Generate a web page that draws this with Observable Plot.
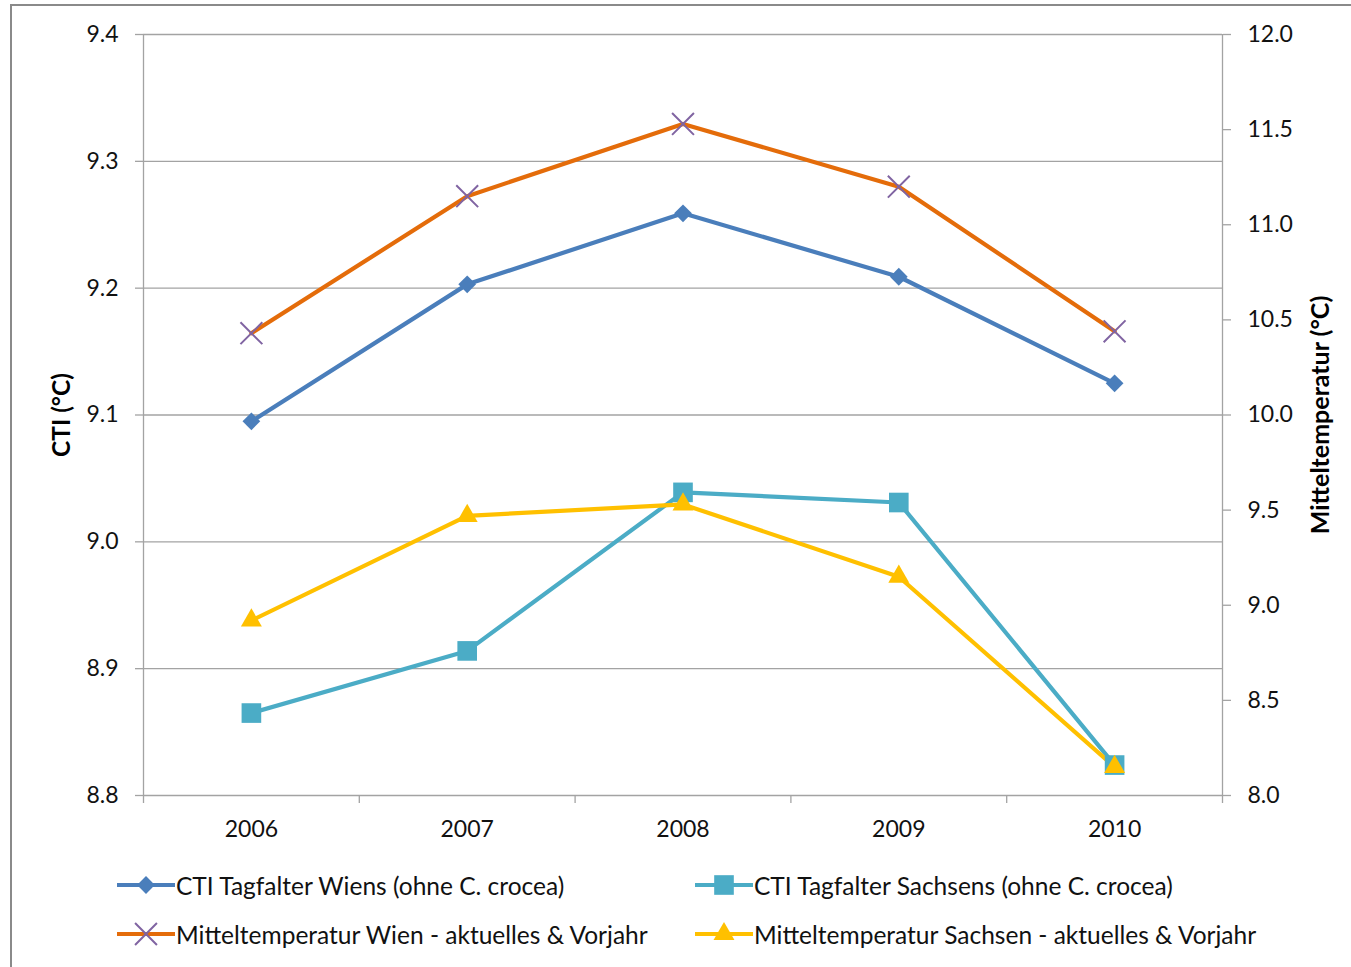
<!DOCTYPE html>
<html>
<head>
<meta charset="utf-8">
<script src="https://cdn.jsdelivr.net/npm/d3@7"></script>
<script src="https://cdn.jsdelivr.net/npm/@observablehq/plot@0.6"></script>
<style>
  html, body { margin: 0; padding: 0; background: #fff; }
  body { width: 1351px; height: 967px; position: relative; overflow: hidden; font-family: Lato, "Open Sans", sans-serif; }
  #frame { position: absolute; left: 10px; top: 4px; width: 1400px; height: 1000px; border-top: 2px solid #8a8a8a; border-left: 2px solid #8a8a8a; }
  #chart { position: absolute; left: 0; top: 0; }
  .leg { position: absolute; display: flex; align-items: center; font-size: 24.5px; color: #111; white-space: nowrap; }
  .leg svg { display: block; margin-right: 1px; }
</style>
</head>
<body>
<div id="frame"></div>
<div id="chart"></div>
<div id="legend"></div>
<script>
const years = [2006, 2007, 2008, 2009, 2010];
const ctiWien = [9.095, 9.203, 9.259, 9.209, 9.125];
const ctiSachsen = [8.865, 8.914, 9.039, 9.031, 8.824];
const tempWien = [10.43, 11.15, 11.53, 11.20, 10.44];
const tempSachsen = [8.92, 9.47, 9.53, 9.15, 8.15];
const leftTicks = [8.8, 8.9, 9.0, 9.1, 9.2, 9.3, 9.4];
const rightTicks = [8.0, 8.5, 9.0, 9.5, 10.0, 10.5, 11.0, 11.5, 12.0];
const seriesNames = [
  "CTI Tagfalter Wiens (ohne C. crocea)",
  "CTI Tagfalter Sachsens (ohne C. crocea)",
  "Mitteltemperatur Wien - aktuelles & Vorjahr",
  "Mitteltemperatur Sachsen - aktuelles & Vorjahr"
];

// right axis (8..12) mapped onto left axis (8.8..9.4)
const toLeft = v => 8.8 + (v - 8) * 0.15;
const fromLeft = y => 8 + (y - 8.8) / 0.15;

const series = [
  {name: seriesNames[0], values: ctiWien, map: v => v, line: "#4A7EBB", fill: "#4A7EBB", symbol: "diamond2", r: 8, stroke: null},
  {name: seriesNames[1], values: ctiSachsen, map: v => v, line: "#4BACC6", fill: "#4BACC6", symbol: "square2", r: 12.5, stroke: null},
  {name: seriesNames[2], values: tempWien, map: toLeft, line: "#E46C0A", fill: "none", symbol: "times", r: 10, stroke: "#8064A2"},
  {name: seriesNames[3], values: tempSachsen, map: toLeft, line: "#FFC000", fill: "#FFC000", symbol: "triangle2", r: 10, stroke: null}
];

const data = series.map(s => years.map((yr, i) => ({year: yr, y: s.map(s.values[i]), name: s.name})));

const boundaries = [2005.5, 2006.5, 2007.5, 2008.5, 2009.5, 2010.5];
const grid = "#a3a3a3";

const marks = [
  Plot.gridY(leftTicks, {stroke: grid, strokeOpacity: 1, strokeWidth: 1.3}),
  Plot.ruleX([2005.5, 2010.5], {stroke: grid, strokeWidth: 1.3}),
  Plot.axisY(leftTicks, {anchor: "left", tickSize: 8, tickPadding: 17, stroke: grid, strokeWidth: 1.3, tickFormat: d => d.toFixed(1), label: null}),
  Plot.axisY(rightTicks.map(toLeft), {anchor: "right", tickSize: 8, tickPadding: 17, stroke: grid, strokeWidth: 1.3, tickFormat: d => fromLeft(d).toFixed(1), label: null}),
  Plot.axisX(boundaries, {tickSize: 8, tickFormat: () => "", stroke: grid, strokeWidth: 1.3, label: null}),
  Plot.axisX(years, {tickSize: 0, tickPadding: 25, tickFormat: d => String(d), label: null}),
  Plot.text(["CTI (°C)"], {frameAnchor: "left", textAnchor: "middle", dx: -81, rotate: -90, fontWeight: "bold", fontSize: 24.5, fill: "#000"}),
  Plot.text(["Mitteltemperatur (°C)"], {frameAnchor: "right", textAnchor: "middle", dx: 98, rotate: -90, fontWeight: "bold", fontSize: 25, fill: "#000"})
];
series.forEach((s, k) => {
  marks.push(Plot.line(data[k], {x: "year", y: "y", stroke: s.line, strokeWidth: 4.2, strokeLinejoin: "round"}));
});
series.forEach((s, k) => {
  if (s.stroke) {
    marks.push(Plot.dot(data[k], {x: "year", y: "y", symbol: s.symbol, r: s.r, stroke: s.stroke, strokeWidth: 2, fill: "none"}));
  } else {
    marks.push(Plot.dot(data[k], {x: "year", y: "y", symbol: s.symbol, r: s.r, fill: s.fill, stroke: "none"}));
  }
});

const plot = Plot.plot({
  width: 1351,
  height: 860,
  marginLeft: 143,
  marginRight: 129,
  marginTop: 34,
  marginBottom: 65,
  style: {fontFamily: "Lato, 'Open Sans', sans-serif", fontSize: "23px", color: "#111", background: "transparent"},
  x: {type: "linear", domain: [2005.5, 2010.5]},
  y: {domain: [8.8, 9.4]},
  marks
});
document.getElementById("chart").appendChild(plot);

// legend
const legPos = [
  {left: 117, top: 867},
  {left: 695, top: 867},
  {left: 117, top: 916},
  {left: 695, top: 916}
];
const symMap = {diamond2: d3.symbolDiamond2, square2: d3.symbolSquare2, times: d3.symbolTimes, triangle2: d3.symbolTriangle2};
const legend = document.getElementById("legend");
series.forEach((s, k) => {
  const div = document.createElement("div");
  div.className = "leg";
  div.style.left = legPos[k].left + "px";
  div.style.top = legPos[k].top + "px";
  const sw = d3.create("svg").attr("width", 58).attr("height", 36);
  sw.append("line").attr("x1", 1).attr("x2", 57).attr("y1", 18).attr("y2", 18).attr("stroke", s.line).attr("stroke-width", 4.2).attr("stroke-linecap", "round");
  const path = d3.symbol(symMap[s.symbol], s.r * s.r * Math.PI)();
  const p = sw.append("path").attr("d", path).attr("transform", "translate(29,18)");
  if (s.stroke) p.attr("fill", "none").attr("stroke", s.stroke).attr("stroke-width", 2);
  else p.attr("fill", s.fill);
  div.appendChild(sw.node());
  const span = document.createElement("span");
  span.textContent = s.name;
  div.appendChild(span);
  legend.appendChild(div);
});
</script>
</body>
</html>
